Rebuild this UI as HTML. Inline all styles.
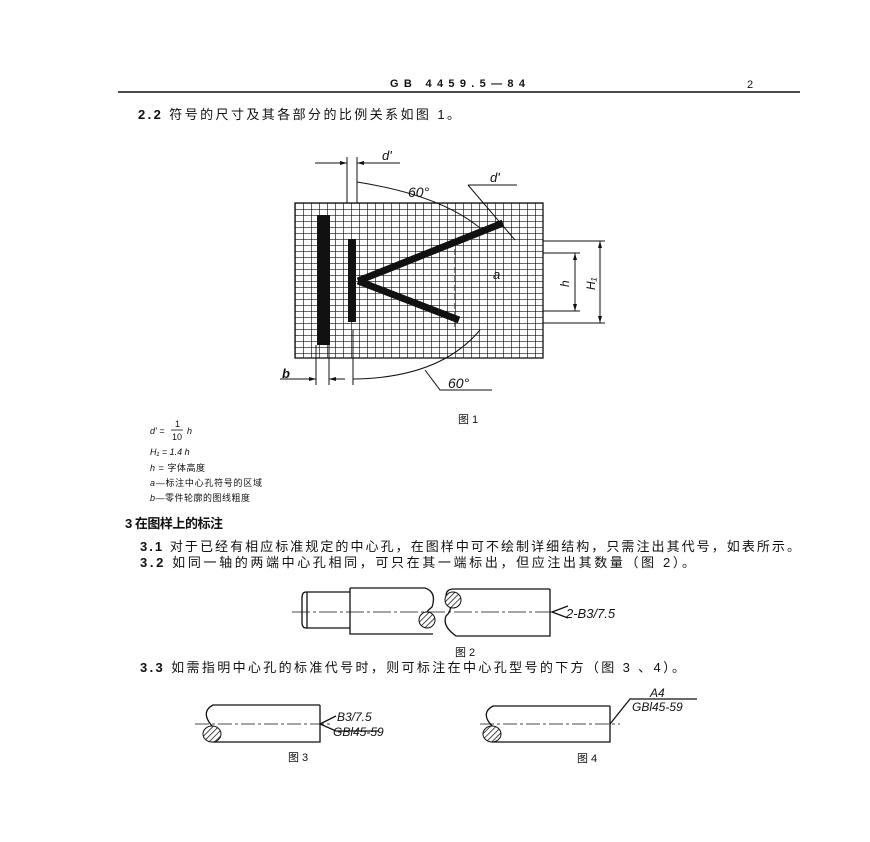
<!DOCTYPE html>
<html><head><meta charset="utf-8"><style>
html,body{margin:0;padding:0;background:#fff;}
svg{display:block}
text{font-family:"Liberation Sans","Noto Sans CJK SC",sans-serif;fill:#111}
.cn{font-size:13px}
.it{font-style:italic}
</style></head><body>
<svg width="870" height="842" viewBox="0 0 870 842" xmlns="http://www.w3.org/2000/svg">
<defs>
<pattern id="grid" x="295" y="203" width="8" height="6" patternUnits="userSpaceOnUse">
<rect width="8" height="6" fill="#fff"/>
<path d="M0 0H8M0 0V6" stroke="#111" stroke-width="1.3" fill="none"/>
</pattern>
<pattern id="hatch" width="4" height="4" patternUnits="userSpaceOnUse" patternTransform="rotate(45)">
<rect width="4" height="4" fill="#fff"/><line x1="0" y1="0" x2="0" y2="4" stroke="#111" stroke-width="1.5"/>
</pattern>
</defs>
<!-- header -->
<text x="390" y="87" font-size="11" font-weight="bold" textLength="135">GB 4459.5—84</text>
<text x="747" y="88" font-size="11">2</text>
<line x1="118" y1="92" x2="800" y2="92" stroke="#111" stroke-width="1.5"/>
<text x="138" y="119" class="cn" textLength="322"><tspan font-weight="bold">2.2</tspan>  符号的尺寸及其各部分的比例关系如图 1。</text>

<!-- fig 1 -->
<rect x="295" y="203" width="248" height="155" fill="url(#grid)" stroke="#111" stroke-width="1.3"/>
<rect x="317" y="215" width="13" height="130" fill="#111"/>
<rect x="348" y="239" width="8" height="83" fill="#111"/>
<line x1="358" y1="281" x2="503" y2="223" stroke="#111" stroke-width="7"/>
<line x1="358" y1="281" x2="459" y2="320" stroke="#111" stroke-width="7"/>
<line x1="455" y1="240" x2="455" y2="330" stroke="#111" stroke-dasharray="6,3"/>
<text x="493" y="279" font-size="13" class="it">a</text>
<g stroke="#111" fill="none">
<line x1="347" y1="157" x2="347" y2="203"/><line x1="357" y1="157" x2="357" y2="203"/>
<line x1="315" y1="163" x2="347" y2="163"/><line x1="357" y1="163" x2="400" y2="163"/>
<path d="M357 182 Q440 195 480 228"/>
<path d="M468 185 H517 M468 185 L515 240"/>
<line x1="316" y1="345" x2="316" y2="385"/><line x1="329" y1="345" x2="329" y2="385"/><line x1="353" y1="330" x2="353" y2="385"/>
<line x1="280" y1="379" x2="316" y2="379"/><line x1="329" y1="379" x2="345" y2="379"/>
<path d="M353 379 Q440 378 480 330"/>
<path d="M425 370 L440 390 H492"/>
<line x1="543" y1="241" x2="605" y2="241"/><line x1="543" y1="253" x2="580" y2="253"/>
<line x1="543" y1="311" x2="580" y2="311"/><line x1="543" y1="323" x2="605" y2="323"/>
<line x1="575" y1="253" x2="575" y2="311"/><line x1="600" y1="241" x2="600" y2="323"/>
</g>
<g fill="#111">
<path d="M347 163 l-7 -2 v4z"/><path d="M357 163 l7 -2 v4z"/>
<path d="M316 379 l-7 -2 v4z"/><path d="M329 379 l7 -2 v4z"/>
<path d="M575 253 l-2 7 h4z"/><path d="M575 311 l-2 -7 h4z"/>
<path d="M600 241 l-2 7 h4z"/><path d="M600 323 l-2 -7 h4z"/>
</g>
<text x="382" y="160" font-size="13" class="it">d'</text>
<text x="490" y="182" font-size="13" class="it">d'</text>
<text x="408" y="197" font-size="14" class="it">60°</text>
<text x="448" y="388" font-size="14" class="it">60°</text>
<text x="282" y="378" font-size="13" class="it" font-weight="bold">b</text>
<text x="569" y="287" font-size="12" class="it" transform="rotate(-90 569 287)">h</text>
<text x="595" y="290" font-size="12" class="it" transform="rotate(-90 595 290)">H₁</text>
<text x="458" y="423" font-size="11">图 1</text>

<!-- legend -->
<g font-size="9">
<text x="150" y="434" class="it">d' =</text>
<text x="175" y="427">1</text><line x1="171" y1="430" x2="183" y2="430" stroke="#111" stroke-width="0.8"/><text x="172" y="440">10</text>
<text x="187" y="434" class="it">h</text>
<text x="150" y="455" class="it">H₁ = 1.4 h</text>
<text x="150" y="471" textLength="55"><tspan class="it">h</tspan> = 字体高度</text>
<text x="150" y="486" textLength="112"><tspan class="it">a</tspan>—标注中心孔符号的区域</text>
<text x="150" y="501" textLength="100"><tspan class="it">b</tspan>—零件轮廓的图线粗度</text>
</g>
<text x="125" y="528" class="cn" font-weight="bold" textLength="98">3    在图样上的标注</text>
<text x="140" y="551" class="cn" textLength="660"><tspan font-weight="bold">3.1</tspan>  对于已经有相应标准规定的中心孔，在图样中可不绘制详细结构，只需注出其代号，如表所示。</text>
<text x="140" y="567" class="cn" textLength="555"><tspan font-weight="bold">3.2</tspan>  如同一轴的两端中心孔相同，可只在其一端标出，但应注出其数量（图 2）。</text>

<!-- fig 2 -->
<g stroke="#111" fill="none" stroke-width="1.3">
<path d="M350 592 H306 Q302 592 302 598 V622 Q302 628 306 628 H350"/>
<line x1="307" y1="592" x2="307" y2="628"/>
<path d="M350 588 V634 H433 M350 588 H425 Q437 592 432 607 Q420 616 427 628"/>
<path d="M550 589 V636 H456 Q442 626 446 616 Q455 608 446 596 Q446 589 454 589 H550"/>
<line x1="292" y1="612" x2="555" y2="612" stroke-width="0.8" stroke-dasharray="18,3,3,3"/>
<path d="M568 606 L552 612 L568 618"/>
</g>
<circle cx="427" cy="620" r="8" fill="url(#hatch)" stroke="#111"/>
<circle cx="453" cy="600" r="8" fill="url(#hatch)" stroke="#111"/>
<text x="566" y="618" font-size="13" class="it">2-B3/7.5</text>
<text x="455" y="656" font-size="11">图 2</text>
<text x="140" y="672" class="cn" textLength="545"><tspan font-weight="bold">3.3</tspan>  如需指明中心孔的标准代号时，则可标注在中心孔型号的下方（图 3 、4）。</text>

<!-- fig 3 -->
<g stroke="#111" fill="none" stroke-width="1.3">
<path d="M320 705 H213 Q200 712 212 726 M212 742 H320 V705"/>
<line x1="195" y1="724" x2="330" y2="724" stroke-width="0.8" stroke-dasharray="14,3,3,3"/>
<path d="M336 716 L320 724 L336 731 H378"/>
</g>
<ellipse cx="212" cy="734" rx="9" ry="8" fill="url(#hatch)" stroke="#111"/>
<text x="337" y="721" font-size="12" class="it">B3/7.5</text>
<text x="333" y="736" font-size="12" class="it">GBl45-59</text>
<text x="288" y="761" font-size="11">图 3</text>

<!-- fig 4 -->
<g stroke="#111" fill="none" stroke-width="1.3">
<path d="M610 706 H493 Q480 713 492 726 M492 742 H610 V706"/>
<line x1="480" y1="724" x2="620" y2="724" stroke-width="0.8" stroke-dasharray="14,3,3,3"/>
<path d="M610 724 L630 699 H697"/>
</g>
<ellipse cx="492" cy="734" rx="9" ry="8" fill="url(#hatch)" stroke="#111"/>
<text x="650" y="697" font-size="12" class="it">A4</text>
<text x="632" y="711" font-size="12" class="it">GBl45-59</text>
<text x="577" y="762" font-size="11">图 4</text>
</svg>
</body></html>
